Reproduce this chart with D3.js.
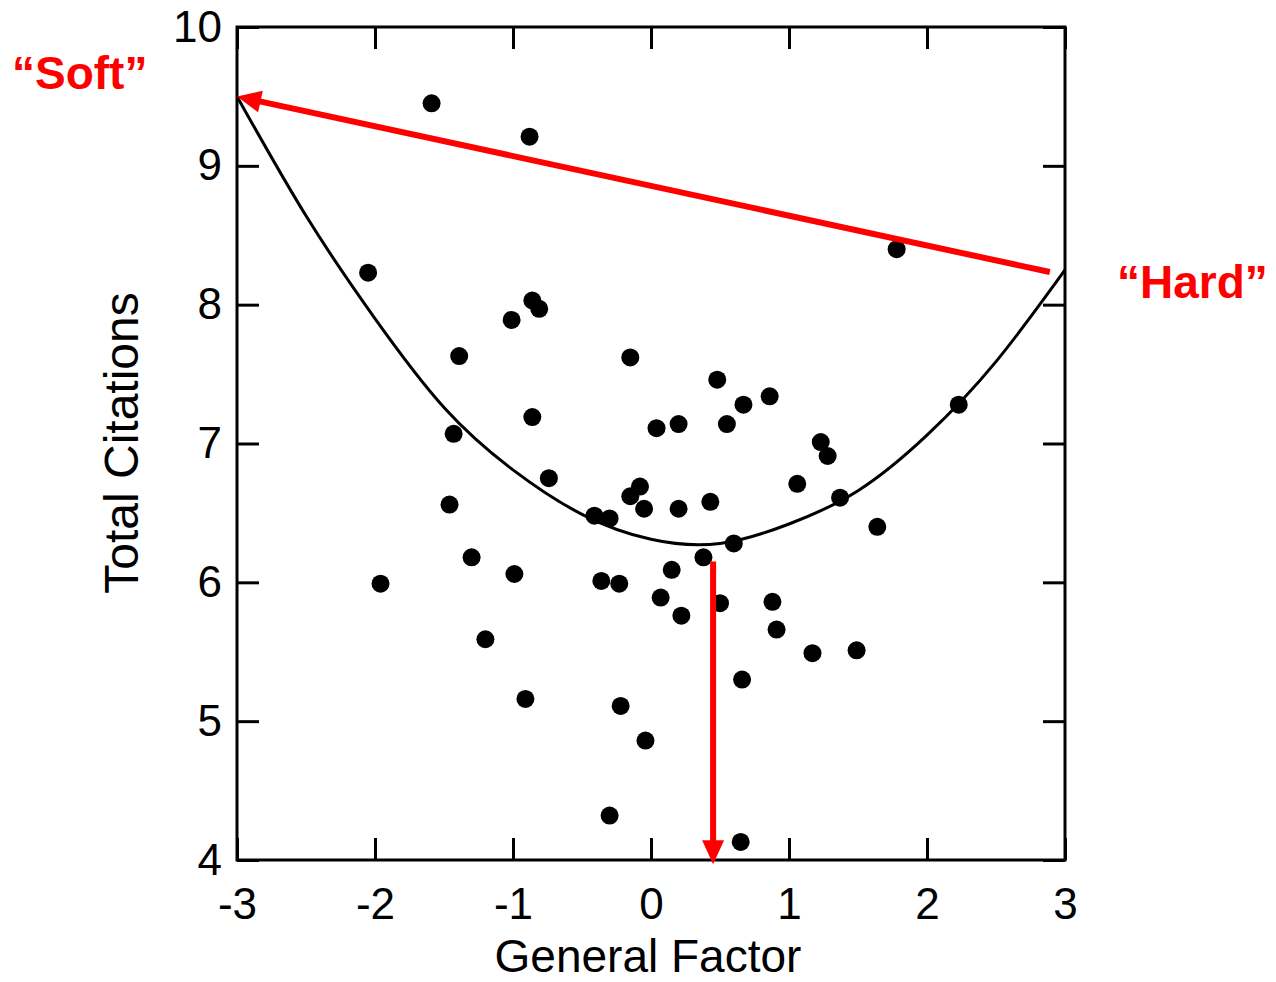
<!DOCTYPE html>
<html>
<head>
<meta charset="utf-8">
<script src="https://cdn.jsdelivr.net/npm/d3@7"></script>
<style>
  body { margin: 0; background: #fff; }
  text { font-family: "Liberation Sans", Arial, sans-serif; }
</style>
</head>
<body>
<div id="chart"></div>
<script>
var width = 1276;
var height = 982;

// scatter points (General Factor, Total Citations)
var dotX = [-1.59, -0.88, -2.05, -0.86, -0.81, -1.01, -1.39, -0.15, 0.48, 0.67,
  0.86, 0.04, 0.20, 0.55, -0.86, -1.43, 1.23, 1.28, 2.23, 1.78,
  -0.74, -1.46, 1.06, 1.37, 1.64, -0.41, -0.30, -0.15, -0.08, -0.05,
  0.20, 0.43, 0.38, 0.60, -1.30, -1.96, -0.99, -0.36, -0.23, 0.15,
  0.07, 0.22, 0.50, 0.88, 0.91, 1.17, 1.49, -1.20, -0.91, -0.22,
  -0.04, 0.66, -0.30, 0.65];
var dotY = [9.45, 9.21, 8.23, 8.03, 7.97, 7.89, 7.63, 7.62, 7.46, 7.28,
  7.34, 7.11, 7.14, 7.14, 7.19, 7.07, 7.01, 6.91, 7.28, 8.40,
  6.75, 6.56, 6.71, 6.61, 6.40, 6.48, 6.46, 6.62, 6.69, 6.53,
  6.53, 6.58, 6.18, 6.28, 6.18, 5.99, 6.06, 6.01, 5.99, 6.09,
  5.89, 5.76, 5.85, 5.86, 5.66, 5.49, 5.51, 5.59, 5.16, 5.11,
  4.86, 5.30, 4.32, 4.13];

// fitted curve
var curveX = [-3, -2.5, -2, -1.5, -1, -0.5, 0, 0.5, 1, 1.5, 2, 2.5, 3];
var curveY = [9.50, 8.64, 7.90, 7.26, 6.81, 6.49, 6.31, 6.28, 6.42, 6.66, 7.06, 7.59, 8.25];

var xTicks = [-3, -2, -1, 0, 1, 2, 3];
var yTicks = [4, 5, 6, 7, 8, 9, 10];

// red annotation arrows (data coords, arrowhead at x2,y2)
var arrowFrom = [[2.89, 8.235], [0.45, 6.15]];
var arrowTo = [[-3, 9.5], [0.45, 3.97]];

var labels = ["\u201CSoft\u201D", "\u201CHard\u201D"];

var x = d3.scaleLinear().domain([-3, 3]).range([237, 1065]);
var y = d3.scaleLinear().domain([4, 10]).range([860, 27]);

var svg = d3.select("#chart").append("svg")
  .attr("width", width)
  .attr("height", height);

svg.append("rect").attr("width", width).attr("height", height).attr("fill", "white");

// axes, ticks pointing inward on all four sides
var tick = 22;
var fmt = function(d) { return String(d); };
var gx = svg.append("g")
  .attr("transform", `translate(0,${y(4)})`)
  .call(d3.axisBottom(x).tickValues(xTicks).tickFormat(fmt).tickSizeInner(-tick).tickSizeOuter(0).tickPadding(28));
var gy = svg.append("g")
  .attr("transform", `translate(${x(-3)},0)`)
  .call(d3.axisLeft(y).tickValues(yTicks).tickFormat(fmt).tickSizeInner(-tick).tickSizeOuter(0).tickPadding(15));
var gt = svg.append("g")
  .attr("transform", `translate(0,${y(10)})`)
  .call(d3.axisTop(x).tickValues(xTicks).tickSizeInner(-tick).tickSizeOuter(0).tickFormat(""));
var gr = svg.append("g")
  .attr("transform", `translate(${x(3)},0)`)
  .call(d3.axisRight(y).tickValues(yTicks).tickSizeInner(-tick).tickSizeOuter(0).tickFormat(""));

[gx, gy, gt, gr].forEach(function(g) {
  g.select(".domain").remove();
  g.selectAll("line").attr("stroke", "#000").attr("stroke-width", 3);
  g.selectAll("text")
    .attr("fill", "#000")
    .style("font-size", "44px");
});

svg.append("rect")
  .attr("x", x(-3))
  .attr("y", y(10))
  .attr("width", x(3) - x(-3))
  .attr("height", y(4) - y(10))
  .attr("fill", "none")
  .attr("stroke", "#000")
  .attr("stroke-width", 3);

// axis titles
svg.append("text")
  .attr("x", 648)
  .attr("y", 972)
  .attr("text-anchor", "middle")
  .style("font-size", "46px")
  .text("General Factor");

svg.append("text")
  .attr("transform", "translate(138,443) rotate(-90)")
  .attr("text-anchor", "middle")
  .style("font-size", "48px")
  .text("Total Citations");

// fitted curve
var line = d3.line()
  .x(function(d, i) { return x(curveX[i]); })
  .y(function(d, i) { return y(curveY[i]); })
  .curve(d3.curveNatural);

svg.append("path")
  .datum(curveX)
  .attr("d", line)
  .attr("fill", "none")
  .attr("stroke", "#000")
  .attr("stroke-width", 3);

// dots
svg.selectAll("circle.dot")
  .data(dotX)
  .enter()
  .append("circle")
    .attr("class", "dot")
    .attr("cx", function(d) { return x(d); })
    .attr("cy", function(d, i) { return y(dotY[i]); })
    .attr("r", 9)
    .attr("fill", "#000");

// red arrows
var headLen = 24, headW = 11;
arrowFrom.forEach(function(a, i) {
  var x1 = x(a[0]), y1 = y(a[1]);
  var x2 = x(arrowTo[i][0]), y2 = y(arrowTo[i][1]);
  var ang = Math.atan2(y2 - y1, x2 - x1);
  var bx = x2 - headLen * Math.cos(ang), by = y2 - headLen * Math.sin(ang);
  svg.append("line")
    .attr("x1", x1).attr("y1", y1)
    .attr("x2", bx + 2 * Math.cos(ang)).attr("y2", by + 2 * Math.sin(ang))
    .attr("stroke", "#ff0000")
    .attr("stroke-width", 6);
  var px = -Math.sin(ang), py = Math.cos(ang);
  svg.append("polygon")
    .attr("points", [
      [x2, y2],
      [bx + headW * px, by + headW * py],
      [bx - headW * px, by - headW * py]
    ].map(function(p) { return p.join(","); }).join(" "))
    .attr("fill", "#ff0000");
});

// labels
svg.append("text")
  .attr("x", 12)
  .attr("y", 89)
  .attr("fill", "#ff0000")
  .style("font-size", "46px")
  .style("font-weight", "bold")
  .text(labels[0]);

svg.append("text")
  .attr("x", 1117)
  .attr("y", 298)
  .attr("fill", "#ff0000")
  .style("font-size", "46px")
  .style("font-weight", "bold")
  .text(labels[1]);
</script>
</body>
</html>
